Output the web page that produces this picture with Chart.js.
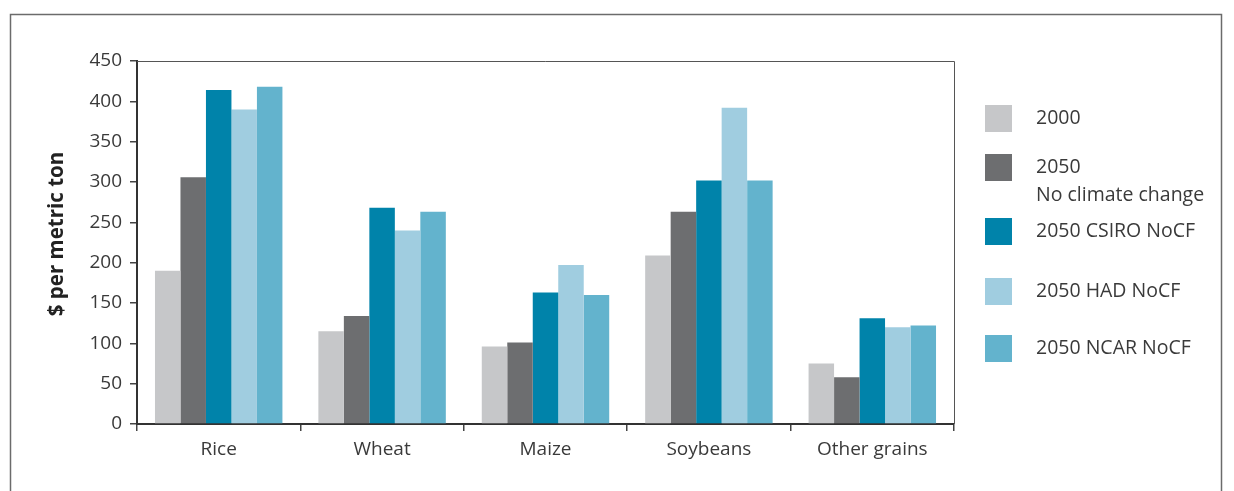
<!DOCTYPE html>
<html>
<head>
<meta charset="utf-8">
<script src="https://cdn.jsdelivr.net/npm/chart.js@4.4.1/dist/chart.umd.min.js"></script>
<style>
  html, body { margin: 0; padding: 0; background: #fff; }
  #wrap { width: 1234px; height: 491px; position: relative; }
</style>
</head>
<body>
<div id="wrap"><canvas id="priceChart"></canvas></div>
<script>
// Veriler
const categories = ['Rice', 'Wheat', 'Maize', 'Soybeans', 'Other grains'];
const seriesLabels = ['2000', '2050\nNo climate change', '2050 CSIRO NoCF', '2050 HAD NoCF', '2050 NCAR NoCF'];
const values2000 = [190, 115, 96, 209, 75];
const valuesNoCC = [306, 134, 101, 263, 58];
const valuesCsiro = [414, 268, 163, 302, 131];
const valuesHad = [390, 240, 197, 392, 120];
const valuesNcar = [418, 263, 160, 302, 122];
const yTicks = [0, 50, 100, 150, 200, 250, 300, 350, 400, 450];
const yTitle = '$ per metric ton';

const colors = ['#c6c7c9', '#6d6e70', '#0083aa', '#a0cde0', '#63b3cd'];
const textColor = '#3a3a3a';
const fontFamily = '"Open Sans", "DejaVu Sans", sans-serif';

const allSeries = [values2000, valuesNoCC, valuesCsiro, valuesHad, valuesNcar];

// Çerçeve, eksen başlığı ve sağdaki lejant
const framePlugin = {
    id: 'framePlugin',
    beforeDraw(chart) {
        const ctx = chart.ctx;
        ctx.save();
        ctx.strokeStyle = '#6b6b6b';
        ctx.lineWidth = 1.5;
        ctx.beginPath();
        ctx.moveTo(10.5, 500);
        ctx.lineTo(10.5, 14.5);
        ctx.lineTo(1221.5, 14.5);
        ctx.lineTo(1221.5, 500);
        ctx.stroke();
        ctx.restore();
    },
    afterDraw(chart) {
        const ctx = chart.ctx;
        const area = chart.chartArea;
        ctx.save();
        // kutu üst ve sağ çizgileri
        ctx.strokeStyle = '#555';
        ctx.lineWidth = 1;
        ctx.beginPath();
        ctx.moveTo(area.left, area.top + 0.5);
        ctx.lineTo(area.right + 0.5, area.top + 0.5);
        ctx.lineTo(area.right + 0.5, area.bottom);
        ctx.stroke();

        // y ekseni başlığı
        ctx.save();
        ctx.translate(57, 234);
        ctx.rotate(-Math.PI / 2);
        ctx.font = 'bold 20.5px ' + fontFamily;
        ctx.fillStyle = '#222';
        ctx.textAlign = 'center';
        ctx.textBaseline = 'middle';
        ctx.fillText(yTitle, 0, 0);
        ctx.restore();

        // lejant
        const boxTops = [105, 154, 218, 278, 335];
        ctx.font = '19.5px ' + fontFamily;
        ctx.textBaseline = 'middle';
        chart.data.datasets.forEach((ds, i) => {
            const y = boxTops[i];
            ctx.fillStyle = ds.backgroundColor;
            ctx.fillRect(985, y, 27, 27);
            ctx.fillStyle = textColor;
            ds.label.split('\n').forEach((line, j) => {
                ctx.fillText(line, 1036, y + 13 + j * 28);
            });
        });
        ctx.restore();
    }
};

const priceCtx = document.getElementById('priceChart').getContext('2d');
const priceChart = new Chart(priceCtx, {
    type: 'bar',
    data: {
        labels: categories,
        datasets: allSeries.map((vals, i) => ({
            label: seriesLabels[i],
            data: vals,
            backgroundColor: colors[i],
            borderWidth: 0,
            categoryPercentage: 0.78,
            barPercentage: 1.0
        }))
    },
    options: {
        responsive: true,
        maintainAspectRatio: false,
        animation: false,
        layout: {
            padding: { left: 0, top: 61, right: 280, bottom: 0 }
        },
        plugins: {
            legend: { display: false },
            tooltip: { enabled: false }
        },
        scales: {
            x: {
                grid: {
                    drawOnChartArea: false,
                    tickLength: 7,
                    color: '#444',
                    lineWidth: 1.5,
                    offset: true
                },
                border: { color: '#333', width: 2 },
                ticks: {
                    color: textColor,
                    font: { family: fontFamily, size: 19 },
                    padding: 7
                },
                afterFit(scale) { scale.height = 67; }
            },
            y: {
                min: 0,
                max: 450,
                afterBuildTicks(scale) {
                    scale.ticks = yTicks.map(v => ({ value: v }));
                },
                grid: {
                    drawOnChartArea: false,
                    tickLength: 7,
                    color: '#444',
                    lineWidth: 1.5
                },
                border: { color: '#333', width: 2 },
                ticks: {
                    color: textColor,
                    font: { family: fontFamily, size: 19 },
                    padding: 8
                },
                afterFit(scale) { scale.width = 137; }
            }
        }
    },
    plugins: [framePlugin]
});
</script>
</body>
</html>
